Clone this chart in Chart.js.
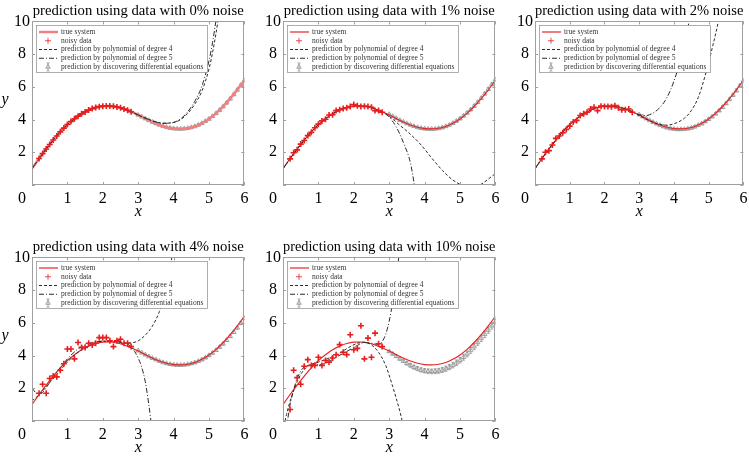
<!DOCTYPE html>
<html><head><meta charset="utf-8">
<script src="https://cdn.jsdelivr.net/npm/chart.js@4.4.0/dist/chart.umd.min.js"></script>
<style>
html,body{margin:0;padding:0;background:#fff;overflow:hidden;width:749px;height:457px;position:relative;}
canvas{position:absolute;}
</style></head><body>
<canvas id="c0" width="250" height="226" style="left:0;top:0"></canvas>
<canvas id="c1" width="250" height="226" style="left:251px;top:0"></canvas>
<canvas id="c2" width="246" height="226" style="left:503px;top:0"></canvas>
<canvas id="c3" width="250" height="226" style="left:0;top:236px"></canvas>
<canvas id="c4" width="250" height="226" style="left:251px;top:236px"></canvas>
<script>
const panelTitles = ['prediction using data with 0% noise','prediction using data with 1% noise','prediction using data with 2% noise','prediction using data with 4% noise','prediction using data with 10% noise'];
const legendLabels = ['true system','noisy data','prediction by polynomial of degree 4','prediction by polynomial of degree 5','prediction by discovering differential equations'];
const xTicks = [0,1,2,3,4,5,6];
const yTicks = [0,2,4,6,8,10];

const trueX = [0,0.2,0.4,0.6,0.8,1.0,1.2,1.4,1.6,1.8,2.0,2.2,2.4,2.6,2.8,3.0,3.2,3.4,3.6,3.8,4.0,4.2,4.4,4.6,4.8,5.0,5.2,5.4,5.6,5.8,6.0];
const trueY = [1.0,1.62,2.2,2.75,3.25,3.7,4.05,4.35,4.58,4.74,4.82,4.83,4.77,4.65,4.48,4.28,4.06,3.85,3.67,3.53,3.45,3.43,3.47,3.58,3.77,4.04,4.38,4.8,5.28,5.82,6.4];

const noiseX = [0.2,0.3,0.4,0.5,0.6,0.7,0.8,0.9,1.0,1.1,1.2,1.3,1.4,1.5,1.6,1.7,1.8,1.9,2.0,2.1,2.2,2.3,2.4,2.5,2.6,2.7,2.8];
const noisy0 = [1.62,1.92,2.2,2.48,2.75,3.0,3.25,3.48,3.7,3.88,4.05,4.21,4.35,4.47,4.58,4.67,4.74,4.79,4.82,4.83,4.83,4.81,4.77,4.72,4.65,4.57,4.48];
const noisy1 = [1.6,1.97,2.15,2.5,2.72,3.02,3.22,3.5,3.72,3.92,4.02,4.28,4.3,4.55,4.6,4.68,4.72,4.8,4.92,4.84,4.8,4.82,4.8,4.75,4.55,4.55,4.45];
const noisy2 = [1.6,2.0,2.1,2.45,2.85,3.0,3.2,3.4,3.6,3.85,3.95,4.25,4.35,4.45,4.65,4.75,4.55,4.82,4.8,4.8,4.78,4.85,4.72,4.6,4.6,4.65,4.45];
const noisy4 = [1.7,2.25,1.7,2.6,2.75,2.7,3.1,3.5,4.4,4.4,3.8,4.8,4.5,4.5,4.75,4.65,4.75,5.1,5.1,5.1,4.9,4.55,4.9,5.0,4.75,4.75,4.55];
const noisy10 = [0.7,3.1,2.65,2.25,3.35,3.75,3.4,3.4,3.9,3.4,3.7,3.6,3.85,4.05,4.67,4.2,4.06,5.27,4.36,4.44,5.82,3.8,5.07,3.9,5.37,4.72,4.55];

const deX = [3.0,3.1,3.2,3.3,3.4,3.5,3.6,3.7,3.8,3.9,4.0,4.1,4.2,4.3,4.4,4.5,4.6,4.7,4.8,4.9,5.0,5.1,5.2,5.3,5.4,5.5,5.6,5.7,5.8,5.9,6.0];
const de0 = [4.28,4.17,4.06,3.95,3.85,3.76,3.67,3.6,3.53,3.48,3.45,3.43,3.43,3.44,3.47,3.52,3.58,3.67,3.77,3.9,4.04,4.2,4.38,4.58,4.8,5.03,5.28,5.54,5.82,6.1,6.4];
const de1 = [4.32,4.2,4.08,3.96,3.86,3.76,3.67,3.59,3.52,3.47,3.44,3.42,3.42,3.43,3.46,3.51,3.58,3.67,3.78,3.91,4.06,4.23,4.41,4.61,4.83,5.06,5.31,5.58,5.86,6.15,6.45];
const de2 = [4.3,4.18,4.06,3.95,3.84,3.74,3.65,3.57,3.5,3.45,3.42,3.4,3.4,3.41,3.44,3.49,3.56,3.65,3.75,3.88,4.02,4.18,4.36,4.55,4.76,4.99,5.24,5.5,5.78,6.07,6.38];
const de4 = [4.3,4.17,4.05,3.94,3.84,3.75,3.66,3.58,3.52,3.47,3.44,3.42,3.42,3.43,3.46,3.51,3.57,3.65,3.75,3.87,4.01,4.16,4.33,4.52,4.72,4.94,5.18,5.43,5.7,5.98,6.28];
const de10 = [4.25,4.1,3.95,3.8,3.66,3.52,3.4,3.29,3.2,3.12,3.07,3.04,3.03,3.04,3.07,3.12,3.2,3.3,3.42,3.56,3.72,3.9,4.1,4.32,4.55,4.8,5.05,5.3,5.56,5.82,6.08];
const deErrSmall = [0.03,0.03,0.03,0.03,0.04,0.04,0.04,0.04,0.04,0.05,0.05,0.05,0.05,0.05,0.05,0.06,0.06,0.06,0.06,0.06,0.07,0.07,0.07,0.07,0.08,0.08,0.08,0.08,0.09,0.09,0.1];
const deErr10 = [0.05,0.06,0.07,0.08,0.09,0.1,0.11,0.12,0.12,0.13,0.13,0.14,0.14,0.15,0.15,0.16,0.16,0.16,0.17,0.17,0.17,0.18,0.18,0.18,0.19,0.19,0.19,0.2,0.2,0.2,0.2];

// polynomial predictions
const p0d4X = [0,0.4,0.8,1.2,1.6,2.0,2.4,2.8,3.1,3.4,3.7,4.0,4.2,4.4,4.6,4.8,5.0,5.1,5.2,5.3];
const p0d4Y = [1.0,2.2,3.25,4.05,4.58,4.82,4.77,4.48,4.18,3.93,3.78,3.82,4.0,4.38,4.95,5.75,7.1,8.1,9.3,10.7];
const p0d5X = [0,0.4,0.8,1.2,1.6,2.0,2.4,2.8,3.1,3.4,3.7,4.0,4.2,4.4,4.6,4.8,5.0,5.1,5.2];
const p0d5Y = [1.0,2.2,3.25,4.05,4.58,4.82,4.77,4.48,4.18,3.92,3.77,3.83,4.05,4.48,5.12,6.05,7.6,8.7,10.1];
const p1d4X = [0,0.4,0.8,1.2,1.6,2.0,2.4,2.8,3.0,3.3,3.6,3.9,4.2,4.5,4.8,5.1,5.3,5.5,5.7,6.0];
const p1d4Y = [1.0,2.2,3.25,4.05,4.58,4.82,4.78,4.46,4.2,3.65,3.1,2.45,1.65,0.9,0.3,-0.05,-0.15,-0.08,0.2,0.7];
const p1d5X = [0,0.4,0.8,1.2,1.6,2.0,2.4,2.8,2.9,3.0,3.2,3.4,3.6,3.7,3.8];
const p1d5Y = [1.0,2.2,3.25,4.05,4.58,4.82,4.78,4.46,4.37,4.15,3.55,2.6,1.35,0.15,-1.2];
const p2d4X = [0,0.4,0.8,1.2,1.6,2.0,2.4,2.8,3.0,3.3,3.6,3.8,4.0,4.3,4.5,4.7,4.9,5.1,5.3,5.4];
const p2d4Y = [1.0,2.2,3.25,4.05,4.58,4.82,4.77,4.48,4.25,3.92,3.7,3.66,3.74,4.08,4.55,5.35,6.7,8.35,10.2,11.3];
const p2d5X = [0,0.4,0.8,1.2,1.6,2.0,2.4,2.8,3.0,3.2,3.4,3.6,3.8,4.0,4.2,4.45];
const p2d5Y = [1.0,2.2,3.25,4.05,4.58,4.82,4.77,4.48,4.3,4.25,4.4,4.75,5.35,6.35,7.75,10.1];
const p3d4X = [0,0.2,0.4,0.6,0.8,1.0,1.3,1.6,2.0,2.4,2.6,2.8,3.0,3.2,3.4,3.6,3.8,3.95];
const p3d4Y = [1.23,1.6,2.1,2.6,3.1,3.6,4.2,4.6,4.88,4.85,4.77,4.78,4.9,5.25,5.8,6.7,8.1,10.0];
const p3d5X = [0,0.15,0.3,0.45,0.6,0.8,1.0,1.3,1.6,2.0,2.4,2.8,2.9,3.0,3.1,3.2,3.3,3.36,3.42];
const p3d5Y = [2.0,1.68,1.75,2.2,2.68,3.25,3.8,4.4,4.74,4.88,4.85,4.55,4.25,3.85,3.28,2.4,1.0,0.0,-1.0];
const p4d4X = [0,0.1,0.2,0.3,0.4,0.5,0.7,1.0,1.3,1.6,1.9,2.1,2.3,2.5,2.7,2.9,3.1,3.3,3.4];
const p4d4Y = [-0.6,0.4,1.2,1.85,2.4,2.85,3.35,3.6,3.85,4.15,4.55,4.75,4.82,4.65,4.2,3.4,2.1,0.6,-0.3];
const p4d5X = [0.1,0.2,0.3,0.4,0.5,0.6,0.8,1.0,1.2,1.5,1.8,2.1,2.3,2.5,2.7,2.8,2.9,3.0,3.1,3.2,3.28];
const p4d5Y = [-0.4,1.0,1.9,2.6,3.05,3.3,3.42,3.45,3.52,3.9,4.25,4.62,4.8,4.75,4.68,4.85,5.3,6.1,7.3,8.8,10.2];

const serif = "'Liberation Serif', 'Times New Roman', serif";
const pts = (xs, ys) => xs.map((x, i) => ({x: x, y: ys[i]}));

const panelDecor = {
  id: 'panelDecor',
  afterDatasetDraw(chart, args) {
    const ds = chart.data.datasets[args.index];
    if (!ds.errorBars) return;
    const {ctx, chartArea: a, scales: {x, y}} = chart;
    ctx.save();
    ctx.beginPath(); ctx.rect(a.left, a.top, a.right - a.left, a.bottom - a.top); ctx.clip();
    ctx.strokeStyle = ds.pointBorderColor; ctx.lineWidth = 0.8;
    ds.data.forEach((p, i) => {
      const px = x.getPixelForValue(p.x);
      const lo = y.getPixelForValue(p.y - ds.errorBars[i]);
      const hi = y.getPixelForValue(p.y + ds.errorBars[i]);
      ctx.beginPath();
      ctx.moveTo(px, lo); ctx.lineTo(px, hi);
      ctx.moveTo(px - 1.5, lo); ctx.lineTo(px + 1.5, lo);
      ctx.moveTo(px - 1.5, hi); ctx.lineTo(px + 1.5, hi);
      ctx.stroke();
    });
    ctx.restore();
  },
  afterDraw(chart, args, opts) {
    const {ctx, chartArea: a, scales: {x, y}} = chart;
    ctx.save();
    // frame + inward ticks
    ctx.strokeStyle = '#a0a0a0'; ctx.lineWidth = 1;
    ctx.strokeRect(Math.round(a.left) + 0.5, Math.round(a.top) + 0.5, Math.round(a.right - a.left) - 1, Math.round(a.bottom - a.top) - 1);
    ctx.beginPath();
    x.ticks.forEach(t => {
      const px = Math.round(x.getPixelForValue(t.value)) + 0.5;
      ctx.moveTo(px, a.bottom); ctx.lineTo(px, a.bottom - 3);
      ctx.moveTo(px, a.top); ctx.lineTo(px, a.top + 3);
    });
    y.ticks.forEach(t => {
      const py = Math.round(y.getPixelForValue(t.value)) + 0.5;
      ctx.moveTo(a.left, py); ctx.lineTo(a.left + 3, py);
      ctx.moveTo(a.right, py); ctx.lineTo(a.right - 3, py);
    });
    ctx.stroke();
    // corner zero label
    ctx.fillStyle = '#000';
    ctx.font = '16px ' + serif;
    ctx.textAlign = 'center'; ctx.textBaseline = 'middle';
    ctx.fillText(String(xTicks[0]), a.left - 10, a.bottom + 14);
    if (opts.showY) {
      ctx.font = 'italic 16px ' + serif;
      ctx.fillText('y', 5, (a.top + a.bottom) / 2 - 3);
    }
    // legend
    const L = Math.round(a.left) + 4, T = Math.round(a.top) + 4, W = 171, H = 47;
    ctx.fillStyle = '#fff'; ctx.fillRect(L, T, W, H);
    ctx.strokeStyle = '#9a9a9a'; ctx.lineWidth = 0.8; ctx.strokeRect(L + 0.5, T + 0.5, W, H);
    ctx.font = '7.5px ' + serif; ctx.textAlign = 'left';
    chart.data.datasets.forEach((ds, i) => {
      const yy = T + 7 + i * 8.75;
      if (ds.showLine) {
        ctx.save();
        ctx.strokeStyle = ds.borderColor; ctx.lineWidth = ds.borderWidth;
        ctx.setLineDash(ds.borderDash || []);
        ctx.beginPath(); ctx.moveTo(L + 3, yy); ctx.lineTo(L + 22, yy); ctx.stroke();
        ctx.restore();
      } else {
        ctx.save();
        ctx.strokeStyle = ds.pointBorderColor; ctx.fillStyle = ds.pointBackgroundColor;
        if (ds.errorBars) {
          ctx.lineWidth = 0.8;
          ctx.beginPath(); ctx.moveTo(L + 12, yy - 4); ctx.lineTo(L + 12, yy + 4);
          ctx.moveTo(L + 10.5, yy - 4); ctx.lineTo(L + 13.5, yy - 4);
          ctx.moveTo(L + 10.5, yy + 4); ctx.lineTo(L + 13.5, yy + 4); ctx.stroke();
        }
        Chart.helpers.drawPoint(ctx, {pointStyle: ds.pointStyle, radius: ds.pointRadius, borderWidth: ds.pointBorderWidth, rotation: 0}, L + 12, yy);
        ctx.restore();
      }
      ctx.fillStyle = '#333';
      ctx.fillText(ds.label, L + 25, yy);
    });
    ctx.restore();
  }
};

function makePanel(id, p) {
  const datasets = [
    {label: legendLabels[0], data: pts(trueX, trueY), showLine: true, borderColor: p.trueColor, borderWidth: p.trueWidth,
     pointRadius: 0, cubicInterpolationMode: 'monotone', order: 3},
    {label: legendLabels[1], data: pts(noiseX, p.noisy), showLine: false, pointStyle: 'cross', pointRadius: 3,
     pointBorderWidth: 1.6, borderWidth: 1.6, pointBorderColor: 'rgb(232,30,30)', pointBackgroundColor: 'rgb(232,30,30)',
     borderColor: 'rgb(232,30,30)', order: 0},
    {label: legendLabels[2], data: pts(p.d4x, p.d4y), showLine: true, borderColor: '#2b2b2b', borderWidth: 1,
     borderDash: [3, 2], pointRadius: 0, cubicInterpolationMode: 'monotone', order: 1},
    {label: legendLabels[3], data: pts(p.d5x, p.d5y), showLine: true, borderColor: '#2b2b2b', borderWidth: 1,
     borderDash: [5, 2, 1, 2], pointRadius: 0, cubicInterpolationMode: 'monotone', order: 2},
    {label: legendLabels[4], data: pts(deX, p.de), showLine: false, pointStyle: 'triangle', pointRadius: 2.6,
     pointBorderWidth: 0.8, borderWidth: 0.8, pointBorderColor: '#929292', pointBackgroundColor: 'rgba(255,255,255,0)',
     borderColor: '#929292', errorBars: p.err, order: 4}
  ];
  return new Chart(document.getElementById(id), {
    type: 'scatter',
    data: {datasets},
    plugins: [panelDecor],
    options: {
      responsive: false, animation: false, devicePixelRatio: 1, events: [],
      layout: {padding: {left: 0, right: p.padRight, top: 0, bottom: 0}},
      plugins: {
        legend: {display: false}, tooltip: {enabled: false},
        title: {display: true, text: p.title, fullSize: false, color: '#000',
                font: {family: serif, size: 14.7, weight: 'normal', lineHeight: 1.2}, padding: {top: 2, bottom: 1.8}},
        panelDecor: {showY: p.showY}
      },
      scales: {
        x: {type: 'linear', min: 0, max: 6,
            grid: {display: false, drawTicks: false}, border: {display: false},
            afterBuildTicks: s => { s.ticks = xTicks.map(v => ({value: v})); },
            afterFit: s => { s.height = 41; s.paddingLeft = 0; s.paddingRight = 0; },
            ticks: {autoSkip: false, maxRotation: 0, padding: 4, color: '#000',
                    font: {family: serif, size: 16, lineHeight: 1.2},
                    callback: v => v === 0 ? '' : String(v)},
            title: {display: true, text: 'x', color: '#000', font: {family: serif, size: 16, style: 'italic', lineHeight: 1.2},
                    padding: {top: 0, bottom: 5}}},
        y: {type: 'linear', min: 0, max: 10,
            grid: {display: false, drawTicks: false}, border: {display: false},
            afterBuildTicks: s => { s.ticks = yTicks.map(v => ({value: v})); },
            afterFit: s => { s.width = 32; s.paddingTop = 0; s.paddingBottom = 0; },
            ticks: {autoSkip: false, padding: 2, crossAlign: 'center', color: '#000',
                    font: {family: serif, size: 16, lineHeight: 1.2},
                    callback: v => v === 0 ? '' : String(v)}}
      }
    }
  });
}

const redStd = 'rgb(230,38,38)';
makePanel('c0', {title: panelTitles[0], trueColor: 'rgb(242,128,128)', trueWidth: 2.5, noisy: noisy0, de: de0, err: deErrSmall,
  d4x: p0d4X, d4y: p0d4Y, d5x: p0d5X, d5y: p0d5Y, padRight: 5, showY: true});
makePanel('c1', {title: panelTitles[1], trueColor: redStd, trueWidth: 1.2, noisy: noisy1, de: de1, err: deErrSmall,
  d4x: p1d4X, d4y: p1d4Y, d5x: p1d5X, d5y: p1d5Y, padRight: 4, showY: false});
makePanel('c2', {title: panelTitles[2], trueColor: redStd, trueWidth: 1.2, noisy: noisy2, de: de2, err: deErrSmall,
  d4x: p2d4X, d4y: p2d4Y, d5x: p2d5X, d5y: p2d5Y, padRight: 2, showY: false});
makePanel('c3', {title: panelTitles[3], trueColor: redStd, trueWidth: 1.2, noisy: noisy4, de: de4, err: deErrSmall,
  d4x: p3d4X, d4y: p3d4Y, d5x: p3d5X, d5y: p3d5Y, padRight: 3, showY: true});
makePanel('c4', {title: panelTitles[4], trueColor: redStd, trueWidth: 1.2, noisy: noisy10, de: de10, err: deErr10,
  d4x: p4d4X, d4y: p4d4Y, d5x: p4d5X, d5y: p4d5Y, padRight: 5, showY: false});
</script>
</body></html>
